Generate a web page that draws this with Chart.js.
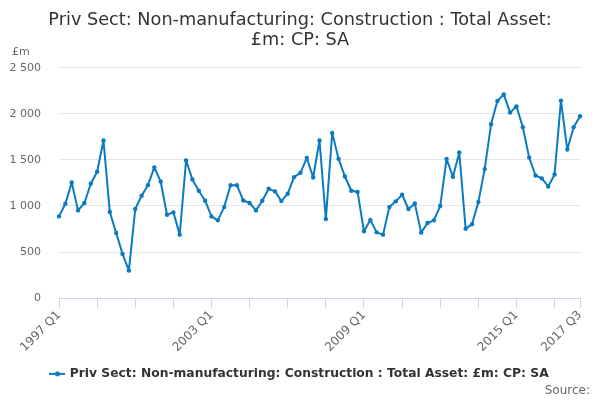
<!DOCTYPE html>
<html>
<head>
<meta charset="utf-8">
<script src="https://cdn.jsdelivr.net/npm/chart.js@4/dist/chart.umd.min.js"></script>
<style>
  html, body { margin: 0; padding: 0; background: #fff; }
  #wrap { position: relative; width: 600px; height: 400px; }
</style>
</head>
<body>
<div id="wrap"><canvas id="chart"></canvas></div>
<script>
// квартали 1997 Q1 .. 2017 Q3
const years = [1997, 1998, 1999, 2000, 2001, 2002, 2003, 2004, 2005, 2006, 2007,
               2008, 2009, 2010, 2011, 2012, 2013, 2014, 2015, 2016, 2017];
const lastQuarter = 3;

// значення, £m
const values = [
  887, 1024, 1255, 952, 1032, 1241, 1371, 1710, 934, 707, 480, 299,
  967, 1111, 1226, 1418, 1266, 905, 931, 689, 1493, 1288, 1165, 1057,
  887, 844, 988, 1226, 1226, 1060, 1032, 952, 1057, 1187, 1158, 1053,
  1133, 1313, 1360, 1522, 1309, 1710, 858, 1793, 1511, 1320, 1165, 1151,
  725, 848, 714, 689, 988, 1050, 1122, 967, 1028, 711, 815, 844,
  999, 1511, 1317, 1580, 754, 801, 1042, 1400, 1886, 2139, 2211, 2013,
  2081, 1854, 1526, 1331, 1299, 1212, 1342, 2143, 1612, 1854, 1973
];

const yTicks = [0, 500, 1000, 1500, 2000, 2500];
const seriesName = 'Priv Sect: Non-manufacturing: Construction : Total Asset: £m: CP: SA';
const titleLines = ['Priv Sect: Non-manufacturing: Construction : Total Asset:', '£m: CP: SA'];

const labels = [];
years.forEach(y => {
  for (let q = 1; q <= 4; q++) {
    if (y === years[years.length - 1] && q > lastQuarter) break;
    labels.push(`${y} Q${q}`);
  }
});

const blue = '#0a7bc1';
const font = "'DejaVu Sans', sans-serif";

/* ---- значок легенди: лінія з точкою ---- */
const legendIcon = document.createElement('canvas');
legendIcon.width = 16; legendIcon.height = 8;
(() => {
  const c = legendIcon.getContext('2d');
  c.strokeStyle = blue; c.lineWidth = 2;
  c.beginPath(); c.moveTo(0, 4); c.lineTo(16, 4); c.stroke();
  c.fillStyle = blue;
  c.beginPath(); c.arc(8, 4, 2.5, 0, Math.PI * 2); c.fill();
})();

/* ---- підписи "£m" та "Source:" ---- */
const extraText = {
  id: 'extraText',
  afterDraw(chart) {
    const ctx = chart.ctx;
    ctx.save();
    ctx.fillStyle = '#666';
    ctx.font = `11px ${font}`;
    ctx.textBaseline = 'middle';
    ctx.textAlign = 'left';
    ctx.fillText('£m', 12, 52);
    ctx.textAlign = 'right';
    ctx.font = `12px ${font}`;
    ctx.fillText('Source:', 590, 391);
    ctx.restore();
  }
};

const last = labels.length - 1;

new Chart(document.getElementById('chart'), {
  type: 'line',
  data: {
    labels,
    datasets: [{
      label: seriesName,
      data: values,
      borderColor: blue,
      backgroundColor: blue,
      borderWidth: 2,
      borderJoinStyle: 'round',
      borderCapStyle: 'round',
      pointRadius: 2.2,
      pointBorderWidth: 0,
      pointHoverRadius: 3,
      tension: 0,
      fill: false
    }]
  },
  options: {
    responsive: true,
    maintainAspectRatio: false,
    animation: false,
    layout: { padding: { left: 8, right: 8, top: 4, bottom: 10 } },
    plugins: {
      title: {
        display: true,
        text: titleLines,
        color: '#333',
        font: { family: font, size: 17.7, weight: 'normal', lineHeight: 1.15 },
        padding: { top: 6, bottom: 17 }
      },
      legend: {
        position: 'bottom',
        labels: {
          usePointStyle: true,
          pointStyle: legendIcon,
          color: '#333',
          font: { family: font, size: 12.3, weight: 'bold' },
          padding: 13
        }
      },
      tooltip: { enabled: false }
    },
    scales: {
      x: {
        offset: false,
        grid: {
          drawOnChartArea: false,
          drawTicks: true,
          tickLength: 10,
          color: '#ccd6eb'
        },
        border: { color: '#ccd6eb' },
        ticks: {
          autoSkip: false,
          maxRotation: 45,
          minRotation: 45,
          color: '#666',
          font: { family: font, size: 12 },
          padding: 0,
          callback: (v, i) => {
            if (i % 24 === 0 || i === last) return labels[i];
            if (i % 6 === 0) return '';
            return null;
          }
        }
      },
      y: {
        min: 0,
        max: 2500,
        afterBuildTicks: axis => { axis.ticks = yTicks.map(v => ({ value: v })); },
        afterFit: axis => { axis.width = 51; },
        grid: { color: '#e6e6e6', drawTicks: false },
        border: { display: false },
        ticks: {
          color: '#666',
          padding: 18,
          font: { family: font, size: 11 },
          callback: v => String(v).replace(/\B(?=(\d{3})+(?!\d))/g, ' ')
        }
      },
      // порожня права вісь — лише відступ, щоб заголовок і легенда стояли по центру
      yRight: {
        position: 'right',
        min: 0,
        max: 2500,
        afterFit: axis => { axis.width = 12; },
        grid: { display: false },
        border: { display: false },
        ticks: { display: false }
      }
    }
  },
  plugins: [extraText]
});
</script>
</body>
</html>
